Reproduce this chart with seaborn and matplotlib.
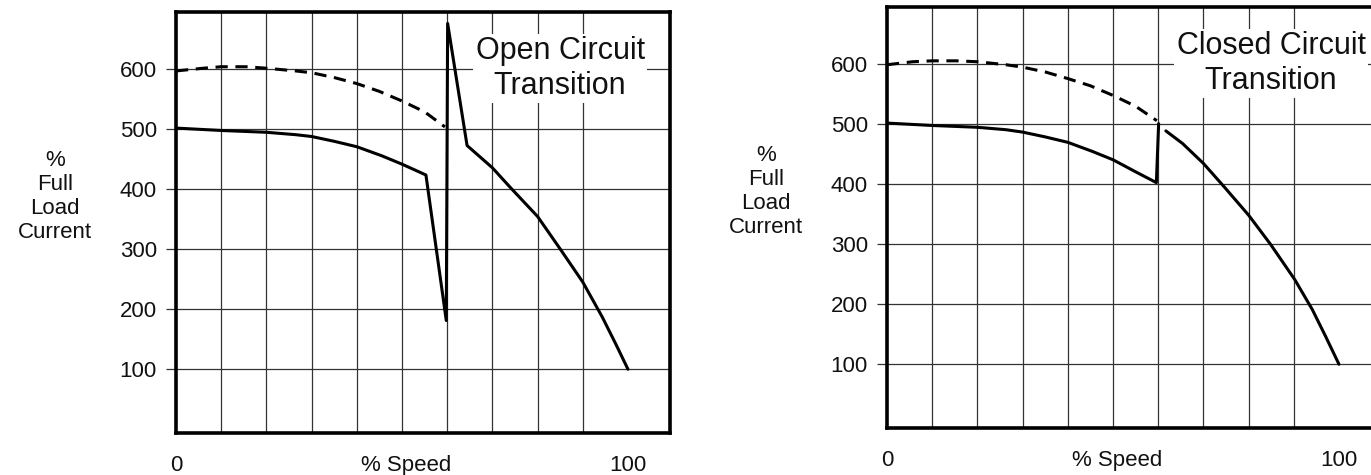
import matplotlib
matplotlib.use("Agg")
import matplotlib.pyplot as plt
import seaborn as sns
import pandas as pd

# ---------------- data ----------------
open_dashed_x = [0, 6, 10, 15.5, 20, 26.5, 30, 35, 40, 45, 50, 55, 59.5]
open_dashed_y = [596, 600.5, 603, 603, 600.5, 596, 593, 585, 575, 562, 546, 528, 503]

open_solid_x = [0, 10, 20, 26.5, 30, 35, 40, 45.5, 50, 55.3, 59.8, 60.1,
                64.4, 70, 74, 80, 85, 90, 94.3, 97.3, 100]
open_solid_y = [501, 497, 494, 490, 487, 479, 470, 455, 441, 423, 181, 675,
                472, 435, 402, 354, 300, 245, 187, 142, 100]

closed_dashed_x = [0, 5.7, 10, 15.3, 20, 26.3, 30, 35, 40, 45, 50, 55, 59.7]
closed_dashed_y = [598, 603, 604.5, 604.5, 603, 598, 594, 586, 575, 563, 547, 529, 505]

closed_solid1_x = [0, 10, 20, 26.3, 30, 35, 40, 45.4, 50, 55, 59.6, 60.1]
closed_solid1_y = [501, 497, 494, 490, 486, 478, 469, 454, 440, 420, 402, 500]

closed_solid2_x = [61.7, 65.4, 70, 74.6, 80, 84.9, 90.2, 94.1, 97, 100]
closed_solid2_y = [488, 467, 434, 395, 348, 299, 241, 191, 147, 100]

y_ticks = [100, 200, 300, 400, 500, 600]
x_grid = [0, 10, 20, 30, 40, 50, 60, 70, 80, 90, 100]
x_labels = ["0", "% Speed", "100"]
x_label_pos = [0, 51, 100]
y_label = "%\nFull\nLoad\nCurrent"
titles = ["Open Circuit\nTransition", "Closed Circuit\nTransition"]

# ---------------- style ----------------
sns.set_style("white")
plt.rcParams["font.family"] = ["Liberation Sans", "DejaVu Sans"]
plt.rcParams["text.color"] = "#111111"
plt.rcParams["axes.labelcolor"] = "#111111"
plt.rcParams["xtick.labelcolor"] = "#111111"
plt.rcParams["ytick.labelcolor"] = "#111111"

fig = plt.figure(figsize=(13.71, 4.75), dpi=100)
W, H = 1371.0, 475.0
ax_w = 494 / W
ax_h = 421 / H
ax1 = fig.add_axes([176 / W, 42 / H, ax_w, ax_h])
ax2 = fig.add_axes([887 / W, 47 / H, ax_w, ax_h])


def seg(ax, xs, ys, dashed=False):
    df = pd.DataFrame({"x": xs, "y": ys})
    kw = dict(color="black", linewidth=2.2, zorder=3)
    n_before = len(ax.lines)
    sns.lineplot(data=df, x="x", y="y", ax=ax, sort=False, estimator=None, **kw)
    for ln in ax.lines[n_before:]:
        ln.set_solid_joinstyle("round")
        if dashed:
            ln.set_dashes((4.0, 2.5))


def style(ax, title):
    ax.set_xlim(0, 109.3)
    ax.set_ylim(-6, 694)
    ax.set_yticks(y_ticks)
    ax.set_yticklabels([str(v) for v in y_ticks])
    ax.set_xticks(x_label_pos)
    ax.set_xticklabels(x_labels)
    ax.set_xticks(x_grid, minor=True)
    ax.xaxis.grid(False, which="major")
    ax.xaxis.grid(True, which="minor", color="#333333", linewidth=0.9)
    ax.yaxis.grid(True, which="major", color="#333333", linewidth=0.9)
    ax.set_axisbelow(True)
    ax.tick_params(axis="y", which="major", length=7.2, width=0.9,
                   color="#333333", pad=6.5, labelsize=16, direction="out",
                   left=True)
    ax.tick_params(axis="x", which="both", length=0, pad=16, labelsize=16)
    for s in ax.spines.values():
        s.set_visible(True)
        s.set_linewidth(2.6)
        s.set_color("black")
        s.set_zorder(5)
    ax.set_xlabel("")
    ax.set_ylabel(y_label, rotation=0, ha="center", va="center",
                  fontsize=16, linespacing=1.2)
    ax.yaxis.set_label_coords(-0.245, 0.562)
    ax.text(85, 600, title, ha="center", va="center", fontsize=22,
            linespacing=1.18, zorder=4,
            bbox=dict(facecolor="white", edgecolor="none", pad=2))


seg(ax1, open_dashed_x, open_dashed_y, dashed=True)
seg(ax1, open_solid_x, open_solid_y)
style(ax1, titles[0])

seg(ax2, closed_dashed_x, closed_dashed_y, dashed=True)
seg(ax2, closed_solid1_x, closed_solid1_y)
seg(ax2, closed_solid2_x, closed_solid2_y)
style(ax2, titles[1])

fig.savefig("out.png", dpi=100)
